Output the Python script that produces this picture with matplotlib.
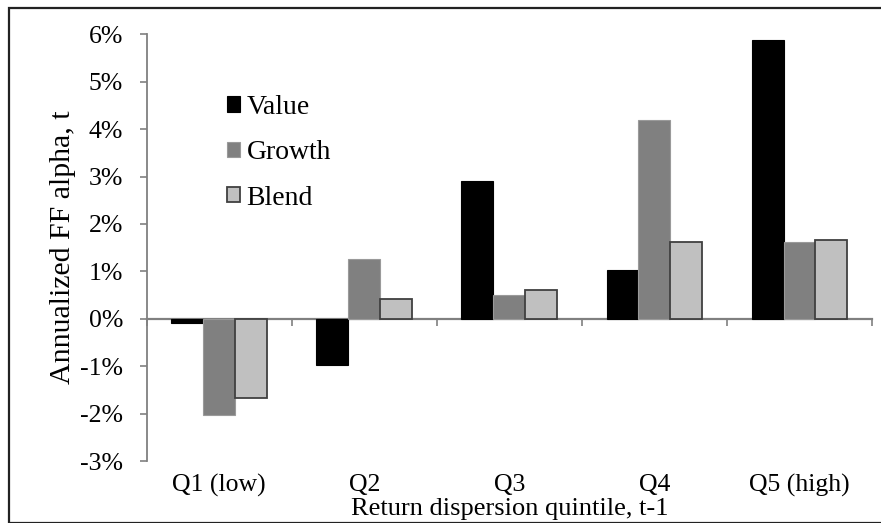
import matplotlib
matplotlib.use("Agg")
import matplotlib.pyplot as plt
import numpy as np
from matplotlib.patches import Rectangle

plt.rcParams['font.family'] = ['Liberation Serif', 'DejaVu Serif']

categories = ["Q1 (low)", "Q2", "Q3", "Q4", "Q5 (high)"]
value = [-0.09, -0.98, 2.90, 1.02, 5.87]
growth = [-2.04, 1.27, 0.51, 4.20, 1.62]
blend = [-1.67, 0.41, 0.60, 1.61, 1.67]
yticks = [-3, -2, -1, 0, 1, 2, 3, 4, 5, 6]

W, H = 881, 523
fig = plt.figure(figsize=(W / 100, H / 100), dpi=100)
ax = fig.add_axes([146.7 / W, 1 - 461 / H, (872 - 146.7) / W, (461 - 34.3) / H])

x = np.arange(len(categories))
bw = 0.22
ax.bar(x - bw, value, bw, color='black', edgecolor='black', linewidth=0.8, label='Value', zorder=3)
ax.bar(x, growth, bw, color='#808080', edgecolor='#9a9a9a', linewidth=0.8, label='Growth', zorder=3)
ax.bar(x + bw, blend, bw, color='#c0c0c0', edgecolor='#404040', linewidth=1.3, label='Blend', zorder=3)

ax.set_xlim(-0.5, len(categories) - 0.5)
ax.set_ylim(-3, 6)
ax.set_yticks(yticks)
ax.set_yticklabels([f"{t}%" for t in yticks], fontsize=18.5)
ax.tick_params(axis='y', length=5, width=1.2, color='#808080', pad=12, direction='out')

ax.set_xticks(x)
ax.set_xticklabels(categories, fontsize=18.5)
ax.tick_params(axis='x', length=0, pad=9.5)

for s in ['top', 'right', 'bottom']:
    ax.spines[s].set_visible(False)
ax.spines['left'].set_color('#808080')
ax.spines['left'].set_linewidth(1.3)

# zero axis with category boundary ticks
sec = ax.secondary_xaxis(location=1 / 3)
sec.set_xticks(np.arange(len(categories) + 1) - 0.5)
sec.set_xticklabels([])
sec.tick_params(length=5, width=1.2, color='#808080', direction='out')
sec.spines['bottom'].set_color('#808080')
sec.spines['bottom'].set_linewidth(1.6)

ax.set_ylabel("Annualized FF alpha, t", fontsize=21.5, labelpad=3)
ax.set_xlabel("Return dispersion quintile, t-1", fontsize=19, labelpad=0.5)

leg = ax.legend(loc='upper left', bbox_to_anchor=(226.7 / W, 1 - 95 / H),
                bbox_transform=fig.transFigure, frameon=False, fontsize=20,
                handlelength=0.47, handleheight=0.47, handletextpad=0.25,
                labelspacing=0.73, borderpad=0, borderaxespad=0)

# outer chart frame
fig.patches.append(Rectangle((9 / W, 0), 1.1, 1 - 8 / H, transform=fig.transFigure,
                             fill=False, edgecolor='#222222', linewidth=1.6, zorder=10))

fig.savefig("out.png", dpi=100)
